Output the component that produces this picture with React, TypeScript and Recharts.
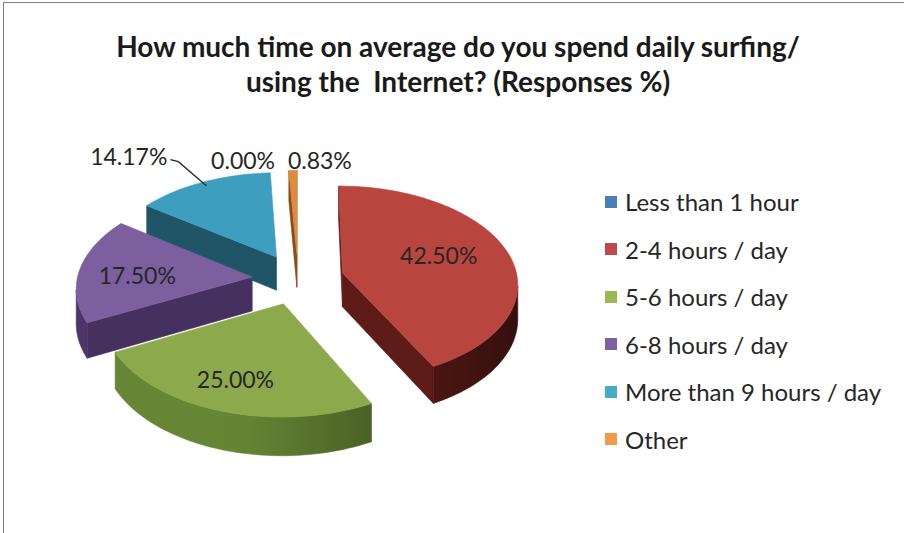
import React from 'react';
import { PieChart, Pie, Cell, Legend } from 'recharts';

const titleLines = ['How much time on average do you spend daily surfing/', 'using the  Internet? (Responses %)'];
const categories = ['Less than 1 hour', '2-4 hours / day', '5-6 hours / day', '6-8 hours / day', 'More than 9 hours / day', 'Other'];
const responses = [0.0, 42.5, 25.0, 17.5, 14.17, 0.83];
const legendColors = ['#4A7EBB', '#BE4B48', '#98B954', '#7D60A0', '#46AAC5', '#F19A4A'];
const faceColors = ['#4A7EBB', '#B9453F', '#8CAA4C', '#7C5F9E', '#3E9EBF', '#E08A3C'];
const wallColors = ['#2C4D74', '#5E1B18', '#5E7A30', '#46305F', '#1F5566', '#8A4E1C'];

type LabelStyle = { mode: 'inside' | 'outside' | 'leader'; r?: number; anchor?: 'start' | 'end'; dx?: number; dy?: number };
const labelStyles: LabelStyle[] = [
  { mode: 'outside', anchor: 'end', dx: -23, dy: -10 },
  { mode: 'inside', r: 0.58, dy: -5 },
  { mode: 'inside', r: 0.72, dx: -4 },
  { mode: 'inside', r: 0.665, dy: 3 },
  { mode: 'leader' },
  { mode: 'outside', anchor: 'start', dx: -5, dy: -10 },
];

const data = categories.map((name, i) => ({ name, value: responses[i] }));

// 3D projection parameters (relative to the pie radius)
const K = 0.553; // vertical squash of the tilted plane
const DF = 10.14; // perspective distance / radius
const EF = 0.263; // explode distance / radius
const HF = 0.194; // thickness / radius

const toTheta = (a: number) => ((90 - a) * Math.PI) / 180;

function makeGeom(props: any) {
  const { cx, cy, outerRadius: R, startAngle, endAngle } = props;
  const D = DF * R;
  const proj = (u: number, w: number, h = 0): [number, number] => {
    const s = D / (D - w);
    return [cx + u * s, cy + w * K * s + h * HF * R * s];
  };
  const t1 = toTheta(startAngle);
  const t2 = toTheta(endAngle);
  const tm = (t1 + t2) / 2;
  const ou = EF * R * Math.sin(tm);
  const ow = -EF * R * Math.cos(tm);
  const pt = (t: number, r: number): [number, number] => [ou + r * Math.sin(t), ow - r * Math.cos(t)];
  return { R, proj, t1, t2, tm, ou, ow, pt };
}

function shade(hex: string, f: number) {
  const n = parseInt(hex.slice(1), 16);
  const c = [(n >> 16) & 255, (n >> 8) & 255, n & 255].map((v) => Math.max(0, Math.min(255, Math.round(v * f))));
  return `rgb(${c[0]},${c[1]},${c[2]})`;
}

const wallFactor = (t: number) => Math.max(0.55, Math.min(1.1, 1 - 0.45 * Math.sin(t)));

const WallShape = (props: any) => {
  const { startAngle, endAngle, fill } = props;
  if (Math.abs(endAngle - startAngle) < 1e-6) return <g />;
  const g = makeGeom(props);
  const N = Math.max(2, Math.ceil((g.t2 - g.t1) / (Math.PI / 120)));
  const arc: { t: number; top: [number, number]; bot: [number, number] }[] = [];
  for (let i = 0; i <= N; i++) {
    const t = g.t1 + ((g.t2 - g.t1) * i) / N;
    const p = g.pt(t, g.R);
    arc.push({ t, top: g.proj(p[0], p[1]), bot: g.proj(p[0], p[1], 1) });
  }
  const apexTop = g.proj(g.ou, g.ow);
  const apexBot = g.proj(g.ou, g.ow, 1);
  const out: React.ReactNode[] = [];
  const quad = (A: number[], B: number[], Bb: number[], Ab: number[]) => [A, B, Bb, Ab].map((p) => p.join(',')).join(' ');
  // radial walls (visible when the edge runs leftwards on screen)
  const edges: [number[], number[], number[], number[]][] = [
    [apexTop, arc[0].top, arc[0].bot, apexBot],
    [arc[N].top, apexTop, apexBot, arc[N].bot],
  ];
  edges.forEach((e, k) => {
    if (e[1][0] - e[0][0] < -0.01) {
      out.push(<polygon key={`r${k}`} points={quad(e[0], e[1], e[2], e[3])} fill={fill} stroke={fill} strokeWidth={0.6} />);
    }
  });
  // outer curved wall: visible run where x decreases along the arc
  const vis: number[] = [];
  for (let i = 0; i < N; i++) if (arc[i + 1].top[0] - arc[i].top[0] < -0.01) vis.push(i);
  if (vis.length) {
    const i0 = vis[0];
    const i1 = vis[vis.length - 1] + 1;
    const run = arc.slice(i0, i1 + 1);
    const pts = run.map((a) => a.top).concat(run.map((a) => a.bot).reverse());
    const xs = run.map((a) => a.top[0]);
    const xmin = Math.min(...xs);
    const xmax = Math.max(...xs);
    const id = `wg${Math.round(startAngle * 100)}`;
    const stops = run
      .filter((_, k) => k % 6 === 0 || k === run.length - 1)
      .map((a) => ({ o: xmax - xmin > 0 ? (a.top[0] - xmin) / (xmax - xmin) : 0, c: shade(fill, wallFactor(a.t)) }))
      .sort((a, b) => a.o - b.o);
    out.push(
      <g key="outer">
        <defs>
          <linearGradient id={id} gradientUnits="userSpaceOnUse" x1={xmin} y1={0} x2={xmax} y2={0}>
            {stops.map((s, k) => (
              <stop key={k} offset={s.o} stopColor={s.c} />
            ))}
          </linearGradient>
        </defs>
        <polygon points={pts.map((p) => p.join(',')).join(' ')} fill={`url(#${id})`} stroke={`url(#${id})`} strokeWidth={0.6} />
      </g>
    );
  }
  return <g>{out}</g>;
};

const FaceShape = (props: any) => {
  const { startAngle, endAngle, fill } = props;
  if (Math.abs(endAngle - startAngle) < 1e-6) return <g />;
  const g = makeGeom(props);
  const N = Math.max(2, Math.ceil((g.t2 - g.t1) / (Math.PI / 120)));
  const pts: [number, number][] = [g.proj(g.ou, g.ow)];
  for (let i = 0; i <= N; i++) {
    const t = g.t1 + ((g.t2 - g.t1) * i) / N;
    const p = g.pt(t, g.R);
    pts.push(g.proj(p[0], p[1]));
  }
  return <polygon points={pts.map((p) => p.join(',')).join(' ')} fill={fill} stroke={fill} strokeWidth={0.6} />;
};

const renderLabel = (props: any) => {
  const { index, value } = props;
  const st = labelStyles[index];
  const g = makeGeom(props);
  const text = `${Number(value).toFixed(2)}%`;
  const font = { fontFamily: 'Lato, sans-serif', fontSize: 23, fill: '#262626' };
  if (st.mode === 'inside') {
    const p = g.pt(g.tm, g.R * (st.r || 0.65));
    const [x, y] = g.proj(p[0], p[1]);
    return (
      <text key={`l${index}`} x={x + (st.dx || 0)} y={y + (st.dy || 0)} textAnchor="middle" dominantBaseline="central" {...font}>
        {text}
      </text>
    );
  }
  if (st.mode === 'leader') {
    const p = g.pt(g.tm, g.R * 0.95);
    const [x, y] = g.proj(p[0], p[1]);
    const qx = x - 36;
    const qy = y - 26;
    return (
      <g key={`l${index}`}>
        <path d={`M${x},${y} L${qx + 8},${qy + 2} L${qx},${qy}`} stroke="#262626" strokeWidth={1.3} fill="none" />
        <text x={qx - 3} y={qy - 4} textAnchor="end" dominantBaseline="central" {...font}>
          {text}
        </text>
      </g>
    );
  }
  const p = g.pt(g.tm, g.R);
  const [x, y] = g.proj(p[0], p[1]);
  return (
    <text key={`l${index}`} x={x + (st.dx || 0)} y={y + (st.dy || 0)} textAnchor={st.anchor} dominantBaseline="central" {...font}>
      {text}
    </text>
  );
};

const renderLegend = () => (
  <div style={{ fontFamily: 'Lato, sans-serif', fontSize: 24, color: '#262626' }}>
    {categories.map((name, i) => (
      <div key={name} style={{ height: 47.5, display: 'flex', alignItems: 'center', whiteSpace: 'nowrap' }}>
        <span style={{ display: 'inline-block', width: 12, height: 12, background: legendColors[i], marginRight: 8 }} />
        <span>{name}</span>
      </div>
    ))}
  </div>
);

export default function App() {
  return (
    <div style={{ position: 'absolute', left: 0, top: 0, width: 904, height: 533, overflow: 'hidden', background: '#fff' }}>
      <div
        style={{ position: 'absolute', left: 3, top: 2, width: 940, height: 600, border: '1px solid #7f7f7f', boxSizing: 'border-box' }}
      />
      <div
        style={{
          position: 'absolute',
          left: 0,
          top: 29,
          width: 916,
          textAlign: 'center',
          fontFamily: 'Lato, sans-serif',
          fontWeight: 700,
          fontSize: 28,
          lineHeight: '35px',
          color: '#1a1a1a',
          whiteSpace: 'pre',
        }}
      >
        {titleLines.join('\n')}
      </div>
      <div style={{ position: 'absolute', left: 0, top: 0 }}>
        <PieChart width={904} height={533} margin={{ top: 0, right: 0, bottom: 0, left: 0 }}>
          <Pie
            data={data}
            dataKey="value"
            nameKey="name"
            cx={298}
            cy={279}
            outerRadius={175}
            startAngle={90}
            endAngle={-270}
            isAnimationActive={false}
            legendType="none"
            shape={WallShape}
            inactiveShape={WallShape}
            activeShape={WallShape}
            stroke="none"
          >
            {data.map((d, i) => (
              <Cell key={d.name} fill={wallColors[i]} />
            ))}
          </Pie>
          <Pie
            data={data}
            dataKey="value"
            nameKey="name"
            cx={298}
            cy={279}
            outerRadius={175}
            startAngle={90}
            endAngle={-270}
            isAnimationActive={false}
            legendType="square"
            shape={FaceShape}
            inactiveShape={FaceShape}
            activeShape={FaceShape}
            stroke="none"
            label={renderLabel}
            labelLine={false}
          >
            {data.map((d, i) => (
              <Cell key={d.name} fill={faceColors[i]} />
            ))}
          </Pie>
          <Legend
            content={renderLegend}
            layout="vertical"
            align="right"
            verticalAlign="middle"
            wrapperStyle={{ position: 'absolute', left: 605, top: 178, width: 298, height: 290 }}
          />
        </PieChart>
      </div>
    </div>
  );
}
